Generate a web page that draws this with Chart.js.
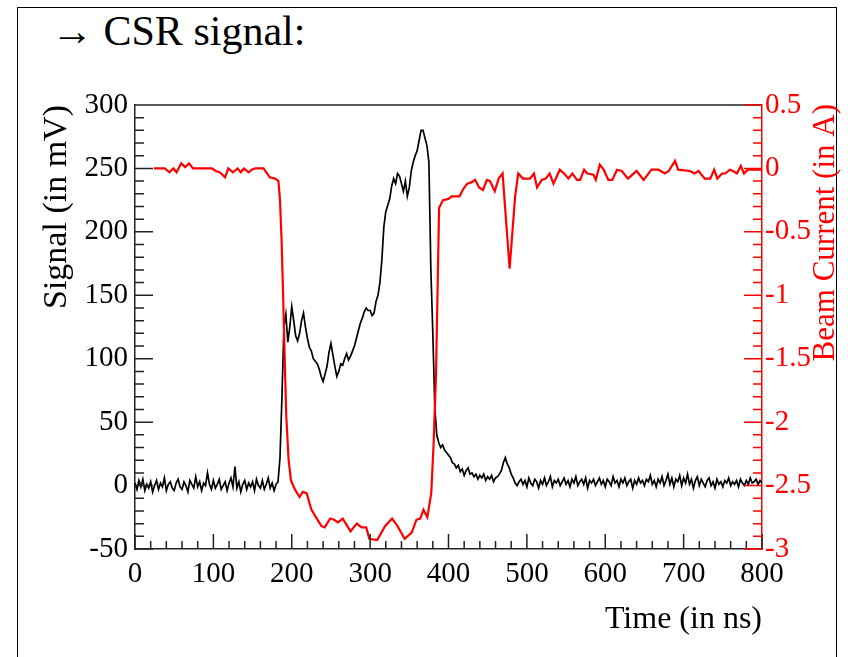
<!DOCTYPE html>
<html><head><meta charset="utf-8">
<script src="https://cdn.jsdelivr.net/npm/chart.js@4.4.1/dist/chart.umd.min.js"></script>
<style>
html,body{margin:0;padding:0;background:#fff;width:848px;height:657px;overflow:hidden;}
#frame{position:absolute;left:17px;top:7px;width:818px;height:700px;border:1.5px solid #000;border-bottom:none;}
#head{position:absolute;left:51px;top:10px;font:42px/42px 'Liberation Serif','Times New Roman',serif;color:#000;white-space:nowrap;}
canvas{position:absolute;left:0;top:0;}
</style></head><body>
<div id="frame"></div>
<div id="head">→ CSR signal:</div>
<canvas id="c" width="848" height="657"></canvas>
<script>
// ---- data ----
const signalStep = 2.5; // ns between signal samples, first sample at 0 ns
const signalValues = [
  2, -3, 4, -1, 5, -4, 1, -2, 3, -5, 0, 4, -3, 2, -1, 6, -4, 1, 3, -2,
  -4, 2, 5, -1, -3, 3, 0, -5, 4, 1, -2, 7, -1, 3, -4, 2, 0, 10, 1, -3,
  4, -2, 1, 5, -3, 0, 3, -4, 2, 6, -1, 15, -2, 3, -5, 1, 4, -3, 2, -1,
  3, -4, 5, 0, -2, 4, -3, 1, 6, -2, 2, -4, 1,
  3, 22, 70, 125, 135, 113, 125, 141, 130, 118,
  114, 120, 130, 136, 125, 116, 109, 106, 100, 98,
  96, 92, 86, 82, 88, 94, 105, 112, 103, 94,
  86, 90, 96, 95, 100, 104, 99, 102, 106, 110,
  116, 122, 128, 132, 137, 140, 138, 138, 134, 136,
  145, 150, 160, 178, 204, 216, 221, 226, 236, 242,
  238, 246, 244, 238, 232, 240, 228, 235, 248, 255,
  260, 264, 272, 280, 280, 274, 268, 255, 170, 120,
  62, 40, 34, 30, 32, 28, 26, 24, 22, 18,
  17, 14, 16, 11, 13, 8, 12, 14, 9, 10,
  7, 9, 5, 8, 6, 9, 4, 7, 5, 8,
  3, 6, 7, 9, 12, 18, 22, 17, 14, 9,
  6, 2, 0, 3,
  5, 1, 4, -1, 6, 2, 0, 5, 3, -2,
  4, 1, 6, 0, 3, 7, -1, 4, 2, 5,
  0, 3, 6, 1, 4, -1, 5, 2, 7, 0,
  3, 5, 1, 6, -2, 4, 2, 5, 0, 3,
  6, 1, 4, -1, 5, 3, 0, 7, 2, 4,
  -1, 5, 2, 6, 0, 3, 5, -2, 4, 1,
  6, 2, 4, 0, 5, 3, 8, 1, 4, -1,
  5, 2, 7, 0, 4, 9, 1, 6, -1, 5,
  3, 8, 0, 6, 2, 9, 1, 5, -2, 4,
  7, 0, 5, 2, -1, 4, 6, 0, 3, -2,
  5, 1, 3, -1, 4, 2, 6, 0, 3, 1,
  4, -1, 5, 2, 0, 4, 1, 6, 2, 3,
  5, 1, 4, 2
];
const beamTime = [
  24, 31, 38, 44, 49, 53, 59, 64, 69, 74, 80, 90, 98, 103, 108, 115, 119, 125, 131, 135,
  139, 145, 149, 153, 160, 164, 172, 179, 183, 185, 187, 189, 191, 193, 196, 199, 204, 210, 214, 219,
  225, 232, 238, 242, 249, 254, 259, 265, 270, 275, 283, 289, 295, 299, 309, 319, 328, 335, 344, 353,
  359, 364, 368, 373, 378, 381, 384, 386, 388, 393, 400, 404, 414, 419, 424, 429, 434, 439, 444, 449,
  453, 459, 464, 469, 478, 485, 489, 495, 504, 509, 513, 519, 524, 529, 534, 542, 549, 553, 558, 564,
  568, 573, 577, 585, 588, 593, 598, 604, 609, 615, 621, 629, 640, 649, 659, 668, 676, 681, 689, 693,
  708, 714, 719, 727, 734, 739, 743, 749, 753, 759, 763, 768, 773, 777, 782, 800
];
const beamCurrent = [
  0, 0, 0, -0.03, 0, -0.03, 0.04, 0.01, 0.04, 0, 0, 0, 0, -0.02, -0.03, -0.07, 0, -0.03, 0, -0.03,
  0, -0.03, -0.01, 0, 0, 0, -0.07, -0.08, -0.10, -0.25, -0.56, -1.0, -1.5, -1.95, -2.3, -2.46, -2.53, -2.59, -2.55, -2.56,
  -2.69, -2.76, -2.82, -2.83, -2.76, -2.77, -2.79, -2.76, -2.81, -2.86, -2.80, -2.83, -2.83, -2.92, -2.93, -2.82, -2.76, -2.82, -2.92, -2.87,
  -2.77, -2.76, -2.69, -2.75, -2.56, -2.17, -1.64, -0.98, -0.31, -0.25, -0.24, -0.22, -0.22, -0.16, -0.12, -0.11, -0.09, -0.15, -0.17, -0.09,
  -0.10, -0.18, -0.08, -0.04, -0.79, -0.22, -0.04, -0.08, -0.08, -0.04, -0.15, -0.09, -0.08, -0.04, -0.12, -0.01, -0.05, -0.08, -0.04, -0.09,
  -0.09, -0.01, -0.04, -0.05, -0.09, 0.03, -0.01, -0.09, -0.09, -0.01, -0.02, -0.08, -0.02, -0.09, -0.01, -0.01, -0.04, -0.02, 0.06, -0.01,
  -0.02, -0.04, -0.02, -0.08, -0.08, -0.01, -0.08, -0.04, -0.04, -0.01, -0.02, -0.04, 0.02, -0.04, -0.01, -0.01
];
const timeTicks = [0, 100, 200, 300, 400, 500, 600, 700, 800];
const signalTicks = [-50, 0, 50, 100, 150, 200, 250, 300];
const currentTicks = [-3, -2.5, -2, -1.5, -1, -0.5, 0, 0.5];

// ---- chart ----
const serif = "'Liberation Serif','Times New Roman',serif";
const RED = '#ff0000';

const frameTicks = {
  id: 'frameTicks',
  afterDraw(chart) {
    const {ctx, chartArea: a} = chart;
    const sx = chart.scales.x, sy = chart.scales.y, sr = chart.scales.y1;
    const marks = (scale, minor, major) => {
      const out = [];
      const n = Math.round((scale.max - scale.min) / minor);
      for (let k = 0; k <= n; k++) {
        const v = scale.min + k * minor;
        const r = v / major;
        out.push({p: scale.getPixelForValue(v), major: Math.abs(r - Math.round(r)) < 1e-6});
      }
      return out;
    };
    ctx.save();
    ctx.lineWidth = 1.5;
    ctx.strokeStyle = '#222';
    ctx.beginPath();
    ctx.moveTo(a.left, a.top); ctx.lineTo(a.right, a.top);
    marks(sx, 20, 100).forEach(m => { ctx.moveTo(m.p, a.bottom); ctx.lineTo(m.p, a.bottom - (m.major ? 15 : 8)); });
    marks(sy, 10, 50).forEach(m => { ctx.moveTo(a.left, m.p); ctx.lineTo(a.left + (m.major ? 18 : 9), m.p); });
    ctx.stroke();
    ctx.strokeStyle = RED;
    ctx.beginPath();
    marks(sr, 0.1, 0.5).forEach(m => { ctx.moveTo(a.right, m.p); ctx.lineTo(a.right - (m.major ? 18 : 9), m.p); });
    ctx.stroke();
    ctx.fillStyle = RED;
    ctx.font = '31px ' + serif;
    ctx.translate(826, 104);
    ctx.rotate(-Math.PI / 2);
    ctx.textAlign = 'right';
    ctx.textBaseline = 'middle';
    ctx.fillText('Beam Current (in A)', 0, 0);
    ctx.restore();
  }
};

new Chart(document.getElementById('c'), {
  type: 'line',
  data: {
    datasets: [
      { label: 'Beam Current', yAxisID: 'y1',
        data: beamTime.map((t, i) => ({x: t, y: beamCurrent[i]})),
        borderColor: RED, borderWidth: 2.2, pointRadius: 0, tension: 0, fill: false },
      { label: 'Signal', yAxisID: 'y',
        data: signalValues.map((v, i) => ({x: i * signalStep, y: v})),
        borderColor: '#000', borderWidth: 1.7, pointRadius: 0, tension: 0, fill: false }
    ]
  },
  options: {
    responsive: false, animation: false, devicePixelRatio: 1,
    layout: { padding: { top: 105, left: 0, right: 0, bottom: 0 } },
    plugins: { legend: { display: false }, tooltip: { enabled: false } },
    scales: {
      x: {
        type: 'linear', position: 'bottom', min: 0, max: 800,
        afterBuildTicks: s => { s.ticks = timeTicks.map(v => ({value: v})); },
        afterFit: s => { s.height = 108; },
        grid: { display: true, drawOnChartArea: false, drawTicks: false },
        border: { display: true, color: '#222', width: 1.5 },
        ticks: { color: '#000', font: { family: serif, size: 29 }, padding: 8, maxRotation: 0, autoSkip: false },
        title: { display: true, text: 'Time (in ns)', align: 'end', color: '#000',
                 font: { family: serif, size: 32 }, padding: { top: 0, bottom: 18 } }
      },
      y: {
        type: 'linear', position: 'left', min: -50, max: 300,
        afterBuildTicks: s => { s.ticks = signalTicks.map(v => ({value: v})); },
        afterFit: s => { s.width = 135; },
        grid: { display: true, drawOnChartArea: false, drawTicks: false },
        border: { display: true, color: '#222', width: 1.5 },
        ticks: { color: '#000', font: { family: serif, size: 29 }, padding: 7, autoSkip: false,
                 callback: v => String(v) },
        title: { display: true, text: 'Signal (in mV)', align: 'end', color: '#000',
                 font: { family: serif, size: 34 }, padding: { top: 37, bottom: 0 } }
      },
      y1: {
        type: 'linear', position: 'right', min: -3, max: 0.5,
        afterBuildTicks: s => { s.ticks = currentTicks.map(v => ({value: v})); },
        afterFit: s => { s.width = 86; },
        grid: { display: true, drawOnChartArea: false, drawTicks: false },
        border: { display: true, color: RED, width: 1.5 },
        ticks: { color: RED, font: { family: serif, size: 29 }, padding: 3, autoSkip: false,
                 callback: v => String(v) }
      }
    }
  },
  plugins: [frameTicks]
});
</script></body></html>
